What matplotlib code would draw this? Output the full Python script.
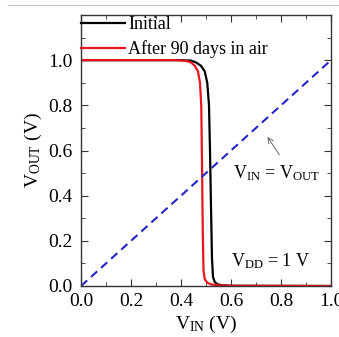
import matplotlib
matplotlib.use("Agg")
import matplotlib.pyplot as plt
from matplotlib.lines import Line2D
from matplotlib.ticker import MultipleLocator

plt.rcParams['font.family'] = ['Liberation Serif', 'DejaVu Serif']
plt.rcParams['mathtext.fontset'] = 'custom'
plt.rcParams['mathtext.rm'] = 'Liberation Serif'
plt.rcParams['mathtext.it'] = 'Liberation Serif'

# Data
vin_initial = [0.0, 0.40, 0.44, 0.46, 0.48, 0.495, 0.505, 0.512, 0.516, 0.52, 0.524, 0.528, 0.535, 0.545, 0.56, 0.60, 1.0]
vout_initial = [1.0, 1.0, 0.998, 0.99, 0.975, 0.95, 0.90, 0.80, 0.60, 0.35, 0.12, 0.04, 0.018, 0.008, 0.004, 0.001, 0.0]
vin_aged = [0.0, 0.38, 0.42, 0.44, 0.455, 0.468, 0.476, 0.481, 0.484, 0.487, 0.49, 0.495, 0.505, 0.52, 0.55, 0.60, 1.0]
vout_aged = [1.0, 1.0, 0.997, 0.99, 0.975, 0.95, 0.90, 0.80, 0.55, 0.25, 0.07, 0.03, 0.015, 0.007, 0.003, 0.001, 0.0]
vin_diag = [0.0, 1.0]
vout_diag = [0.0, 1.0]
labels = ['Initial', 'After 90 days in air']

fig = plt.figure(figsize=(3.39, 3.37), dpi=100)
ax = fig.add_axes([81/339, 1-286/337, 250/339, 271/337])

ax.plot(vin_initial, vout_initial, color='black', lw=1.6, label=labels[0])
ax.plot(vin_aged, vout_aged, color='#e8141e', lw=1.6, label=labels[1])
ax.plot(vin_diag, vout_diag, color='#2424c8', lw=1.5, ls=(0, (4, 2.5)))

ax.set_xlim(0, 1.0)
ax.set_ylim(0, 1.2)
ax.xaxis.set_minor_locator(MultipleLocator(0.1))
ax.yaxis.set_minor_locator(MultipleLocator(0.1))
ax.set_yticks([0.0, 0.2, 0.4, 0.6, 0.8, 1.0])
ax.set_xticks([0.0, 0.2, 0.4, 0.6, 0.8, 1.0])
ax.set_xticklabels(['0.0', '0.2', '0.4', '0.6', '0.8', '1.0'])
ax.set_yticklabels(['0.0', '0.2', '0.4', '0.6', '0.8', '1.0'])
ax.tick_params(which='both', direction='in', top=True, right=True, labelsize=14, color='#333333')
ax.tick_params(which='major', length=5)
ax.tick_params(which='minor', length=3)
ax.tick_params(axis='x', pad=5)
ax.tick_params(axis='y', pad=6)
for s in ax.spines.values():
    s.set_color('#333333')
    s.set_linewidth(1.0)

ax.set_xlabel(r'$\mathrm{V}_{\mathrm{IN}}$ (V)', fontsize=14, labelpad=3)
ax.set_ylabel(r'$\mathrm{V}_{\mathrm{OUT}}$ (V)', fontsize=14, labelpad=3)

leg = ax.legend(loc='upper left', bbox_to_anchor=(0, 1 - 1/271), frameon=False, fontsize=13,
                handlelength=2.45, handletextpad=0.15, borderaxespad=0.0, borderpad=0.0,
                labelspacing=0.4)

ax.annotate('', xy=(0.74, 0.67), xytext=(0.80, 0.57),
            arrowprops=dict(arrowstyle='->', color='#555555', lw=0.6))
ax.text(0.78, 0.50, r'$\mathrm{V}_{\mathrm{IN}}$ = $\mathrm{V}_{\mathrm{OUT}}$', fontsize=13, ha='center', va='center')
ax.text(0.76, 0.11, r'$\mathrm{V}_{\mathrm{DD}}$ = 1 V', fontsize=13, ha='center', va='center')

fig.add_artist(Line2D([8/339, 1.0], [1-5/337, 1-5/337], color='#c8c8c8', lw=1.0, transform=fig.transFigure))

fig.savefig('out.png', dpi=100)
